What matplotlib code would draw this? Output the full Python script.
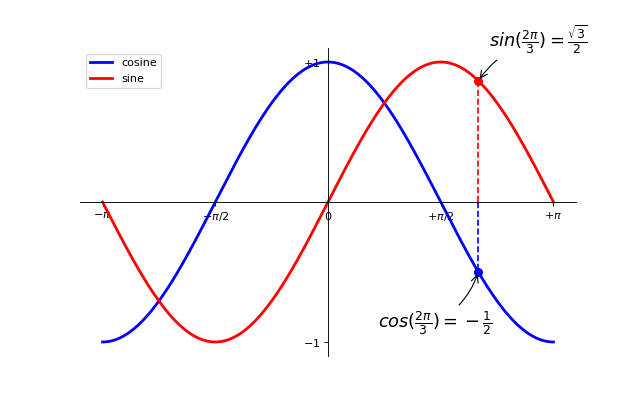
import numpy as np
import matplotlib
matplotlib.use('Agg')
import matplotlib.pyplot as plt

# the chart is a plot of the two functions on [-pi, pi]
X = np.linspace(-np.pi, np.pi, 256, endpoint=True)
C = np.cos(X)
S = np.sin(X)

xtick_vals = [-np.pi, -np.pi / 2, 0, np.pi / 2, np.pi]
xtick_labels = [r'$-\pi$', r'$-\pi/2$', r'$0$', r'$+\pi/2$', r'$+\pi$']
ytick_vals = [-1, 1]
ytick_labels = [r'$-1$', r'$+1$']

t = 2 * np.pi / 3
cos_t = -0.5
sin_t = np.sqrt(3) / 2

fig = plt.figure(figsize=(8, 5), dpi=80)
ax = plt.subplot(111)
ax.spines['right'].set_color('none')
ax.spines['top'].set_color('none')
ax.xaxis.set_ticks_position('bottom')
ax.spines['bottom'].set_position(('data', 0))
ax.yaxis.set_ticks_position('left')
ax.spines['left'].set_position(('data', 0))
ax.set_axisbelow(True)

ax.plot(X, C, color='blue', linewidth=2.5, linestyle='-', label='cosine')
ax.plot(X, S, color='red', linewidth=2.5, linestyle='-', label='sine')

ax.set_xlim(X.min() * 1.1, X.max() * 1.1)
ax.set_xticks(xtick_vals)
ax.set_xticklabels(xtick_labels)
ax.set_ylim(C.min() * 1.1, C.max() * 1.1)
ax.set_yticks(ytick_vals)
ax.set_yticklabels(ytick_labels)

ax.plot([t, t], [0, cos_t], color='blue', linewidth=1.5, linestyle='--')
ax.scatter([t], [cos_t], 50, color='blue')
ax.annotate(r'$sin(\frac{2\pi}{3})=\frac{\sqrt{3}}{2}$',
            xy=(t, sin_t), xycoords='data',
            xytext=(+10, +30), textcoords='offset points', fontsize=16,
            arrowprops=dict(arrowstyle='->', connectionstyle='arc3,rad=.2'))

ax.plot([t, t], [0, sin_t], color='red', linewidth=1.5, linestyle='--')
ax.scatter([t], [sin_t], 50, color='red')
ax.annotate(r'$cos(\frac{2\pi}{3})={}-\frac{1}{2}$',
            xy=(t, cos_t), xycoords='data',
            xytext=(-90, -50), textcoords='offset points', fontsize=16,
            arrowprops=dict(arrowstyle='->', connectionstyle='arc3,rad=.2'))

ax.legend(loc='upper left')
plt.savefig('out.png', dpi=80)
